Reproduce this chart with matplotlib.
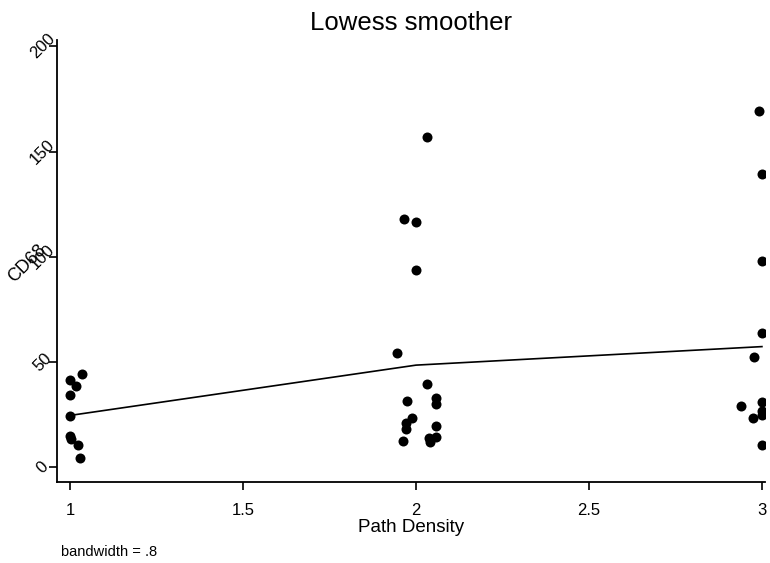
import matplotlib
matplotlib.use("Agg")
import matplotlib.pyplot as plt

plt.rcParams['font.family'] = ['Liberation Sans', 'DejaVu Sans']

# scatter points (path density jittered, CD68)
pd1_x = [1.035, 1.0, 1.017, 1.0, 1.0, 1.0, 1.003, 1.023, 1.029]
pd1_y = [44.5, 41.6, 38.8, 34.4, 24.4, 14.8, 13.4, 10.5, 4.3]
pd2_x = [2.032, 1.965, 2.0, 2.0, 1.945, 2.032, 1.974, 2.058, 2.058,
         1.988, 1.971, 1.971, 2.058, 1.962, 2.038, 2.058, 2.040]
pd2_y = [156.9, 117.7, 116.7, 93.8, 54.1, 39.7, 31.6, 33.0, 30.1,
         23.4, 21.1, 18.2, 19.6, 12.4, 13.9, 14.4, 12.0]
pd3_x = [2.991, 3.0, 3.0, 3.0, 2.977, 2.939, 3.0, 3.0, 3.0, 2.974, 3.0]
pd3_y = [169.4, 139.2, 98.1, 63.6, 52.2, 29.2, 31.1, 26.8, 24.9, 23.4, 10.5]

# lowess fit
fit_x = [1, 2, 3]
fit_y = [24.6, 48.5, 57.3]

xticks = [1, 1.5, 2, 2.5, 3]
xtick_labels = ['1', '1.5', '2', '2.5', '3']
yticks = [0, 50, 100, 150, 200]

fig = plt.figure(figsize=(7.7, 5.63), dpi=100)
ax = fig.add_axes([0.074, 0.144, 0.92, 0.785])

x_all = pd1_x + pd2_x + pd3_x
y_all = pd1_y + pd2_y + pd3_y
ax.plot(x_all, y_all, 'o', color='black', markersize=7.2, markeredgewidth=0)
ax.plot(fit_x, fit_y, color='black', linewidth=1.2)

ax.set_xlim(0.962, 3.01)
ax.set_ylim(-7, 203)
ax.set_xticks(xticks)
ax.set_xticklabels(xtick_labels)
ax.set_yticks(yticks)
ax.set_yticklabels([str(v) for v in yticks], rotation=45, rotation_mode='anchor',
                   va='center', ha='center')

for s in ['top', 'right']:
    ax.spines[s].set_visible(False)
for s in ['left', 'bottom']:
    ax.spines[s].set_linewidth(1.3)
ax.tick_params(axis='both', length=6, width=1.2, labelsize=12)
ax.tick_params(axis='x', pad=9)
ax.tick_params(axis='y', pad=4.5, labelsize=12)

ax.set_title('Lowess smoother', fontsize=18.5, pad=7)
ax.set_xlabel('Path Density', fontsize=13.5, labelpad=1)
fig.text(27 / 770, 1 - 264 / 563, 'CD68', fontsize=13, rotation=45,
         ha='center', va='center')
fig.text(61 / 770, 1 - 552 / 563, 'bandwidth = .8', fontsize=10.5, va='center')

fig.savefig('out.png', dpi=100)
